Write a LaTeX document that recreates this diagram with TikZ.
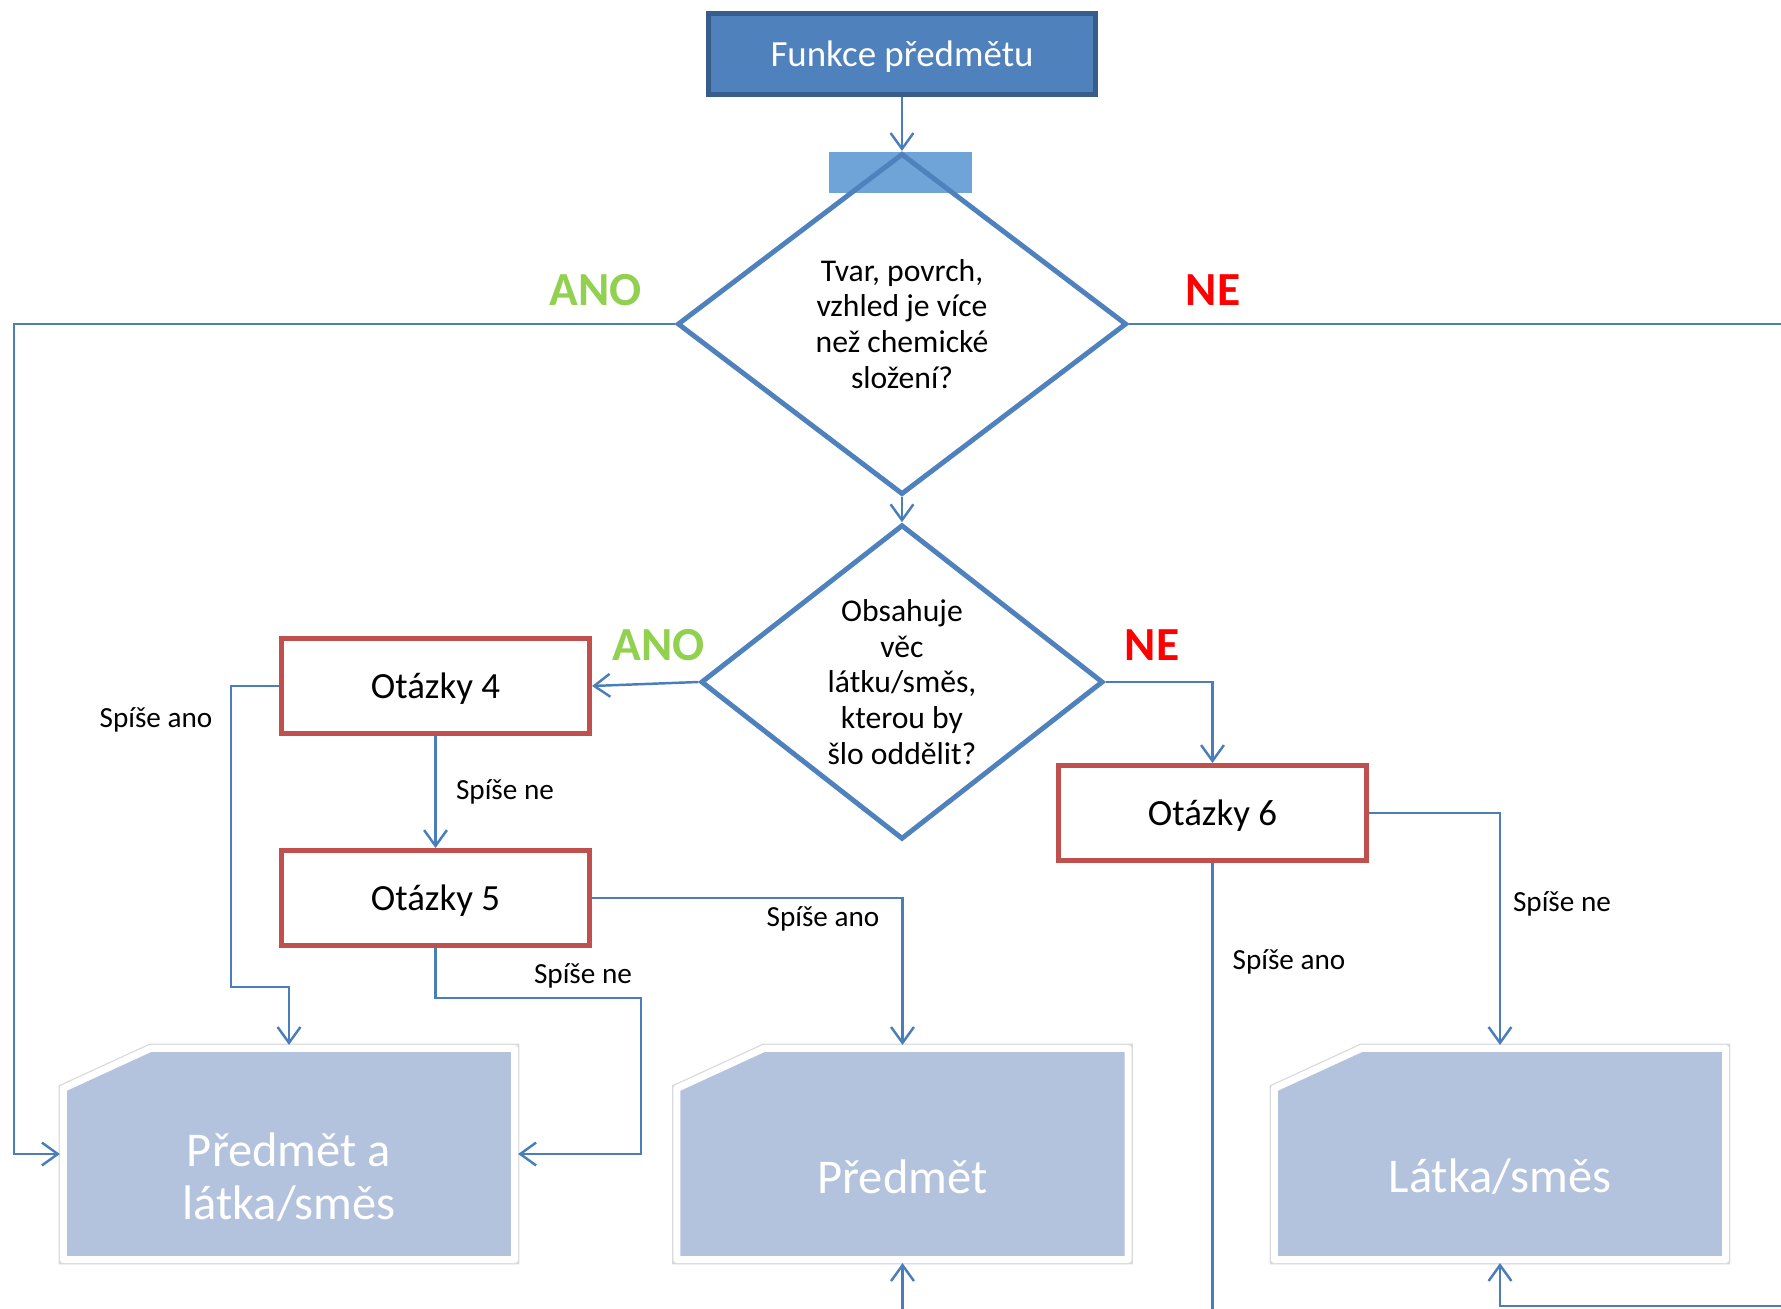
\documentclass[tikz,border=0pt]{standalone}
\usepackage{fontspec}
\setmainfont{Carlito}
\usepackage{tikz}
\usetikzlibrary{calc, positioning, shapes.geometric, arrows.meta, shadows}
\usepackage{xcolor}

\definecolor{headblue}{RGB}{79,129,189}
\definecolor{headedge}{RGB}{56,93,138}
\definecolor{lineblue}{RGB}{74,126,187}
\definecolor{tabblue}{RGB}{111,164,216}
\definecolor{askred}{RGB}{192,80,77}
\definecolor{endfill}{RGB}{179,194,221}
\definecolor{anogreen}{RGB}{146,208,80}
\definecolor{nered}{RGB}{255,0,0}

% result box outline with the cut top left corner
\newcommand{\resultshape}[1]{%
    \filldraw[endframe] ($(#1.north west)+(0,40)$) -- ($(#1.north west)+(87,0)$)
        -- (#1.north east) -- (#1.south east) -- (#1.south west) -- cycle;}

\begin{document}
\begin{tikzpicture}[x=0.01cm, y=-0.01cm]

        % Styles for boxes, decisions and connectors
        \tikzset{
            headbox/.style={rectangle, fill=headblue, draw=headedge, line width=1.4pt,
                minimum width=3.87cm, minimum height=0.81cm, text=white, text depth=0pt,
                font=\fontsize{10.5}{12}\selectfont},
            decision/.style={diamond, draw=headblue, line width=1.4pt, inner sep=0pt,
                align=center, font=\fontsize{9}{10.2}\selectfont},
            askbox/.style={rectangle, draw=askred, line width=1.4pt, fill=white,
                minimum width=3.08cm, minimum height=0.95cm, text depth=0pt,
                font=\fontsize{10.5}{12}\selectfont},
            endbox/.style={rectangle, inner sep=0pt, outer sep=0pt,
                minimum width=4.51cm, minimum height=2.11cm},
            endframe/.style={fill=endfill, draw=white, line width=2pt, line join=round,
                drop shadow={shadow xshift=0pt, shadow yshift=-1.3pt, opacity=0.3},
                preaction={draw=black!15, line width=2.7pt}},
            endtext/.style={text=white, align=center, font=\fontsize{13.8}{15.2}\selectfont},
            flow/.style={draw=lineblue, line width=0.7pt},
            arr/.style={flow, -{Straight Barb[length=4.5pt, width=6.5pt]}},
            yes/.style={text=anogreen, font=\bfseries\fontsize{13.5}{15}\selectfont},
            no/.style={text=nered, font=\bfseries\fontsize{13.5}{15}\selectfont},
            choice/.style={font=\fontsize{8.3}{10}\selectfont},
        }

        \useasboundingbox (0,0) rectangle (1781,1309);

        % =================================================================
        % 1. TOP: title and first decision
        % =================================================================

        \node[headbox] (funkce) at (902,54) {Funkce předmětu};

        % tab behind the top of the diamond
        \fill[tabblue] (829,152) rectangle (972,193);

        \node[decision, minimum width=4.49cm, minimum height=3.41cm] (tvar) at (902,324)
            {Tvar, povrch,\\vzhled je více\\než chemické\\složení?};

        \node[yes] (ano1) at (596,290) {ANO};
        \node[no] (ne1) at (1213,290) {NE};

        % =================================================================
        % 2. MIDDLE: second decision and question boxes
        % =================================================================

        \node[decision, minimum width=4.02cm, minimum height=3.05cm] (obsah) at (902,682)
            {Obsahuje\\věc\\látku/směs,\\kterou by\\šlo oddělit?};

        \node[yes] (ano2) at (659,645) {ANO};
        \node[no] (ne2) at (1152,645) {NE};

        \node[askbox] (ot4) at (435.5,686) {Otázky 4};
        \node[askbox] (ot5) at (435.5,898) {Otázky 5};
        \node[askbox] (ot6) at (1212.5,813) {Otázky 6};

        % =================================================================
        % 3. BOTTOM: results
        % =================================================================

        \node[endbox] (predlat) at (289,1154) {};
        \node[endbox] (predmet) at (902.5,1154) {};
        \node[endbox] (latka) at (1500,1154) {};

        \resultshape{predlat}
        \resultshape{predmet}
        \resultshape{latka}

        \node[endtext] (predlattext) at ($(predlat.center)+(0,23)$) {Předmět a\\látka/směs};
        \node[endtext] (predmettext) at ($(predmet.center)+(0,23)$) {Předmět};
        \node[endtext] (latkatext) at ($(latka.center)+(0,23)$) {Látka/směs};

        % free ends at the picture's edges
        \coordinate (leftrail) at (14,1154);
        \coordinate (rightend) at (1781,324);
        \coordinate (ot4bend) at (231,987);
        \coordinate (ot5bend) at (641,998);
        \coordinate (ot6end) at (1212.5,1309);
        \coordinate (predmetin) at (902.5,1309);
        \coordinate (latkain) at (1781,1306);

        % Connectors
        \draw[arr] (funkce.south) -- (tvar.north);
        \draw[arr] (tvar.west) -| (leftrail) -- ([xshift=-1pt]predlat.west);
        \draw[flow] (tvar.east) -- (rightend);
        \draw[arr] (tvar.south) -- (obsah.north);
        \draw[arr] (obsah.west) -- (ot4.east);
        \draw[arr] (obsah.east) -| (ot6.north);
        \draw[arr] (ot4.south) -- (ot5.north);
        \draw[arr] (ot4.west) -| (ot4bend) -| ([yshift=1pt]predlat.north);
        \draw[arr] (ot5.south) |- (ot5bend) |- ([xshift=1pt]predlat.east);
        \draw[arr] (ot5.east) -| ([yshift=1pt]predmet.north);
        \draw[arr] (ot6.east) -| ([yshift=1pt]latka.north);
        \draw[flow] (ot6.south) -- (ot6end);
        \draw[arr] (predmetin) -- ([yshift=-1pt]predmet.south);
        \draw[arr] (latkain) -| ([yshift=-1pt]latka.south);

        % Labels on the branches
        \node[choice] (ano4) at (156,720) {Spíše ano};
        \node[choice] (ne4) at (505,792) {Spíše ne};
        \node[choice] (ne5) at (583,976) {Spíše ne};
        \node[choice] (ano5) at (823,919) {Spíše ano};
        \node[choice] (ne6) at (1562,904) {Spíše ne};
        \node[choice] (ano6) at (1289,962) {Spíše ano};

\end{tikzpicture}
\end{document}
